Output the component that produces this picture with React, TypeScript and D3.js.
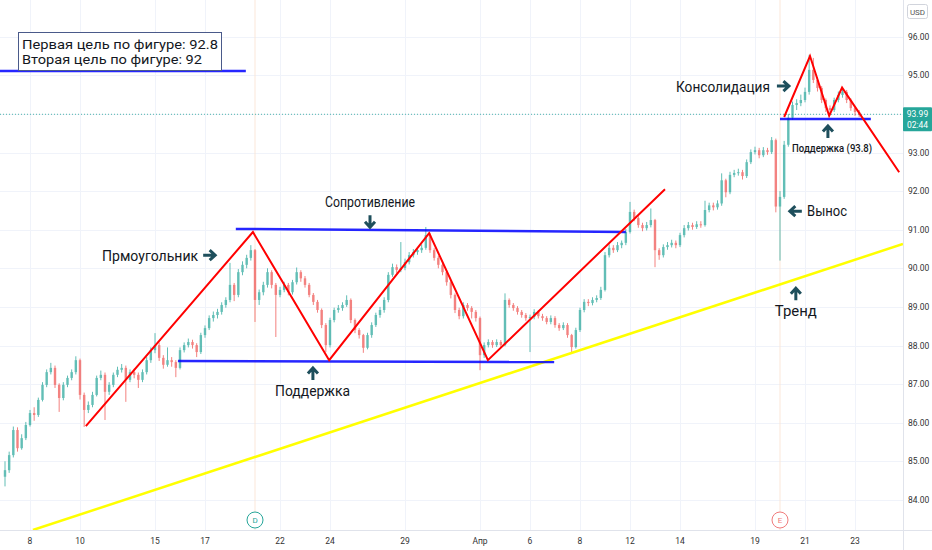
import React from 'react';
import * as d3 from 'd3';

const W = 932;
const H = 550;
const PLOT_R = 903;
const PLOT_B = 530;
const BARS_PER_DAY = 6;

const firstOpen = 84.6;
const closes = [
  84.77,85.16,85.81,85.34,85.60,85.94,86.25,86.20,86.59,86.98,
  87.31,87.42,86.98,86.64,86.98,87.16,87.31,87.62,86.72,86.33,
  86.46,86.72,87.16,87.24,86.80,86.98,87.24,87.37,87.42,87.11,
  87.31,87.24,87.11,87.31,87.62,87.88,88.01,87.68,87.50,87.62,
  87.57,87.42,87.88,88.01,88.09,88.01,87.83,88.27,88.45,88.71,
  88.79,88.87,89.05,89.18,89.57,89.31,89.90,90.09,90.27,90.47,
  89.18,89.38,89.57,89.90,89.57,89.31,89.44,89.57,89.38,89.64,
  89.90,89.74,89.57,89.31,89.13,88.92,88.53,88.01,88.66,88.92,
  88.97,89.05,89.18,88.66,88.40,88.27,87.94,88.27,88.53,88.79,
  88.92,89.18,89.83,90.03,89.96,90.01,90.16,90.34,90.42,90.47,
  90.53,90.86,90.47,90.27,90.09,89.90,89.64,89.31,88.92,88.76,
  89.05,88.97,88.87,88.71,87.75,88.01,88.09,88.01,88.09,88.01,
  89.18,89.05,88.97,88.87,88.79,88.71,88.74,88.87,88.76,88.71,
  88.61,88.71,88.53,88.45,88.53,88.27,87.96,88.40,88.92,89.13,
  89.10,89.18,89.23,89.44,90.34,90.53,90.47,90.60,90.66,90.94,
  91.46,91.30,91.12,91.04,91.12,91.25,90.47,90.34,90.55,90.60,
  90.66,90.60,90.86,91.04,91.12,91.07,91.14,91.12,91.51,91.63,
  91.58,91.68,92.28,91.97,92.42,92.47,92.49,92.39,92.75,93.01,
  93.06,92.93,93.06,93.01,93.32,91.60,91.85,93.20,93.90,94.23,
  94.28,94.36,94.57,95.14,94.88,94.67,94.36,94.15,94.10,94.36,
  94.49,94.57,94.36,94.15,94.05,93.99,
];
const highs = [
  85.00,85.25,85.90,85.88,85.70,86.02,86.33,86.40,86.65,87.05,
  87.38,87.55,87.48,87.02,87.05,87.22,87.38,87.72,87.66,86.78,
  86.55,86.80,87.22,87.35,87.30,87.05,87.30,87.45,87.52,87.48,
  87.38,87.40,87.30,87.38,87.70,87.95,88.32,88.08,87.75,87.95,
  87.70,87.62,87.95,88.08,88.18,88.15,88.06,88.33,88.52,88.78,
  88.88,88.95,89.12,89.25,90.14,89.62,89.98,90.18,90.35,90.60,
  90.50,89.45,89.65,90.00,89.95,89.62,89.52,89.65,89.62,89.70,
  90.02,89.95,89.80,89.62,89.36,89.18,88.96,88.58,88.72,88.98,
  89.05,89.12,89.30,89.22,88.70,88.45,88.30,88.33,88.60,88.85,
  89.00,89.25,89.90,90.12,90.10,90.68,90.25,90.42,90.50,90.55,
  90.62,91.07,90.92,90.52,90.32,90.14,89.95,89.68,89.35,88.98,
  89.12,89.10,89.02,88.92,88.75,88.08,88.16,88.14,88.16,88.14,
  89.35,89.22,89.10,89.02,88.92,88.84,88.80,88.94,88.92,88.82,
  88.76,88.78,88.76,88.58,88.60,88.58,88.30,88.46,88.98,89.20,
  89.20,89.25,89.30,89.52,90.42,90.62,90.60,90.68,90.72,91.02,
  91.72,91.52,91.35,91.18,91.20,91.55,91.28,90.52,90.62,90.68,
  90.74,90.72,90.92,91.12,91.20,91.18,91.22,91.22,91.75,91.70,
  91.70,91.76,92.46,92.32,92.50,92.55,92.58,92.55,92.82,93.08,
  93.15,93.12,93.14,93.12,93.40,93.36,92.00,93.30,94.00,94.32,
  94.38,94.50,94.68,95.53,95.45,94.95,94.72,94.40,94.22,94.42,
  94.58,94.70,94.62,94.40,94.20,94.10,
];
const lows = [
  84.35,84.70,85.10,85.25,85.30,85.55,85.90,86.05,86.15,86.55,
  86.92,87.25,86.90,86.28,86.58,86.92,87.10,87.25,86.60,85.89,
  86.25,86.40,86.68,87.10,86.07,86.72,86.92,87.18,87.30,86.54,
  87.05,87.15,86.90,87.05,87.25,87.55,87.80,87.60,87.40,87.45,
  87.45,87.18,87.38,87.82,87.95,87.92,87.70,87.78,88.20,88.40,
  88.62,88.70,88.80,88.98,89.12,89.15,89.25,89.82,90.00,90.20,
  88.61,89.05,89.30,89.50,89.48,88.22,89.25,89.38,89.30,89.32,
  89.58,89.65,89.50,89.25,89.05,88.85,88.45,87.83,87.95,88.60,
  88.85,88.90,89.00,88.58,88.32,88.18,87.81,87.90,88.20,88.48,
  88.72,88.85,89.12,89.78,89.88,89.90,89.95,90.10,90.28,90.35,
  90.40,90.48,90.40,90.20,90.00,89.82,89.55,89.22,88.84,88.68,
  88.70,88.90,88.70,88.62,87.36,87.68,87.95,87.94,87.96,87.95,
  87.98,88.98,88.90,88.80,88.72,88.64,87.83,88.68,88.70,88.64,
  88.55,88.55,88.46,88.38,88.40,88.20,87.83,87.92,88.35,88.86,
  89.02,89.04,89.12,89.18,89.40,90.28,90.40,90.42,90.52,90.60,
  90.90,91.22,91.05,90.96,90.98,91.06,90.03,90.22,90.28,90.48,
  90.54,90.52,90.55,90.80,90.98,91.00,91.02,91.05,91.08,91.45,
  91.50,91.52,91.62,91.84,91.92,92.36,92.40,92.30,92.34,92.70,
  92.95,92.85,92.88,92.94,92.96,91.45,90.20,91.80,93.15,93.85,
  94.10,94.20,94.30,94.50,94.80,94.58,94.28,94.05,93.97,94.05,
  94.30,94.42,94.28,94.08,93.95,93.92,
];

const dayTickLabels = ['8','10','15','17','22','24','29','Апр','6','8','12','14','19','21','23'];
const dayTickIndex = [1,3,6,8,11,13,16,19,21,23,25,27,30,32,34];
const priceTicks = [84,85,86,87,88,89,90,91,92,93,94,95,96];
const lastPrice = 93.99;
const countdown = '02:44';

// drawings (bar index, price)
const zigzagBars = [19.4, 59.5, 77.8, 101.8, 115.9, 158.4];
const zigzagPrices = [85.91, 90.94, 87.62, 90.91, 87.62, 92.05];
const resistanceBars = [55.4, 149.0];
const resistancePrices = [91.02, 90.94];
const supportBars = [41.5, 131.8];
const supportPrices = [87.60, 87.57];
const trendBars = [6.7, 215.5];
const trendPrices = [83.22, 90.63];
const targetBars = [-1.2, 57.8];
const targetPrices = [95.11, 95.11];
const consBars = [187.0, 193.2, 197.8, 200.9, 214.6];
const consPrices = [93.92, 95.50, 93.95, 94.68, 92.49];
const support2Bars = [186.0, 207.8];
const support2Prices = [93.87, 93.87];

const noteLines = ['Первая цель по фигуре: 92.8', 'Вторая цель по фигуре: 92'];

type Lbl = { text: string; bar: number; price: number; anchor: 'start' | 'middle' | 'end'; width: number; size: number };
const labels: Lbl[] = [
  { text: 'Сопротивление', bar: 87.6, price: 91.59, anchor: 'middle', width: 90, size: 15 },
  { text: 'Прмоугольник', bar: 23.3, price: 90.19, anchor: 'start', width: 96, size: 15 },
  { text: 'Поддержка', bar: 73.8, price: 86.69, anchor: 'middle', width: 75, size: 15 },
  { text: 'Консолидация', bar: 183.6, price: 94.57, anchor: 'end', width: 94, size: 15 },
  { text: 'Вынос', bar: 192.5, price: 91.35, anchor: 'start', width: 40, size: 15 },
  { text: 'Тренд', bar: 189.8, price: 88.76, anchor: 'middle', width: 42, size: 15 },
  { text: 'Поддержка (93.8)', bar: 198.5, price: 93.01, anchor: 'middle', width: 80, size: 11 },
];
type Arr = { bar: number; price: number; dir: 'up' | 'down' | 'left' | 'right' };
const arrows: Arr[] = [
  { bar: 87.6, price: 91.22, dir: 'down' },
  { bar: 49.0, price: 90.34, dir: 'right' },
  { bar: 73.9, price: 87.26, dir: 'up' },
  { bar: 186.7, price: 94.72, dir: 'right' },
  { bar: 189.8, price: 91.48, dir: 'left' },
  { bar: 189.8, price: 89.33, dir: 'up' },
  { bar: 197.5, price: 93.53, dir: 'up' },
];
const eventBars = [60, 186];
const eventLetters = ['D', 'E'];
const eventColors = ['#26a69a', '#f07b7b'];

const x = d3.scaleLinear().domain([0, BARS_PER_DAY]).range([5, 30]);
const y = d3.scaleLinear().domain([90, 96]).range([268.3, 36.7]);

const UP = '#26a69a';
const DOWN = '#ef5350';
const FONT = "Roboto, 'Liberation Sans', Arial, sans-serif";

function polyline(bars: number[], prices: number[]) {
  const pts = bars.map((b, i) => [x(b), y(prices[i])] as [number, number]);
  return d3.line()(pts) || '';
}

function arrowPath(cx: number, cy: number, dir: string) {
  const s = 6;
  const h = 5;
  if (dir === 'down') return `M${cx},${cy - s} L${cx},${cy + s - 1} M${cx - h},${cy + 0.5} L${cx},${cy + s} L${cx + h},${cy + 0.5}`;
  if (dir === 'up') return `M${cx},${cy + s} L${cx},${cy - s + 1} M${cx - h},${cy - 0.5} L${cx},${cy - s} L${cx + h},${cy - 0.5}`;
  if (dir === 'right') return `M${cx - s},${cy} L${cx + s - 1},${cy} M${cx + 0.5},${cy - h} L${cx + s},${cy} L${cx + 0.5},${cy + h}`;
  return `M${cx + s},${cy} L${cx - s + 1},${cy} M${cx - 0.5},${cy - h} L${cx - s},${cy} L${cx - 0.5},${cy + h}`;
}

export default function App() {
  const opens = closes.map((c, i) => (i === 0 ? firstOpen : closes[i - 1]));
  const bodyW = 2.4;
  return (
    <svg width={W} height={H} style={{ position: 'absolute', left: 0, top: 0, background: '#fff' }} fontFamily={FONT}>
      <defs>
        <clipPath id="plot">
          <rect x={0} y={0} width={PLOT_R} height={PLOT_B} />
        </clipPath>
      </defs>
      <rect x={0} y={0} width={W} height={H} fill="#fff" />
      {/* grid */}
      <g stroke="#f0f3fa" strokeWidth={1}>
        {priceTicks.map((p) => (
          <line key={'h' + p} x1={0} x2={PLOT_R} y1={Math.round(y(p)) + 0.5} y2={Math.round(y(p)) + 0.5} />
        ))}
        {dayTickIndex.map((d) => (
          <line key={'v' + d} x1={Math.round(x(d * BARS_PER_DAY)) + 0.5} x2={Math.round(x(d * BARS_PER_DAY)) + 0.5} y1={0} y2={PLOT_B} />
        ))}
      </g>
      {/* event vertical lines */}
      {eventBars.map((b, i) => (
        <line key={'ev' + i} x1={x(b)} x2={x(b)} y1={0} y2={PLOT_B} stroke="#fbe6d6" strokeWidth={2} opacity={0.45} />
      ))}
      <g clipPath="url(#plot)">
        {/* last price dotted line */}
        <line x1={0} x2={PLOT_R} y1={y(lastPrice)} y2={y(lastPrice)} stroke={UP} strokeWidth={1} strokeDasharray="1 2" opacity={0.8} />
        {/* candles */}
        {closes.map((c, i) => {
          const o = opens[i];
          const up = c >= o;
          const col = up ? UP : DOWN;
          const cx = x(i);
          const top = y(Math.max(o, c));
          const bot = y(Math.min(o, c));
          return (
            <g key={i} opacity={0.72}>
              <line x1={cx} x2={cx} y1={y(highs[i])} y2={y(lows[i])} stroke={col} strokeWidth={1} />
              <rect x={cx - bodyW / 2} y={top} width={bodyW} height={Math.max(1, bot - top)} fill={col} />
            </g>
          );
        })}
        {/* drawings */}
        <path d={polyline(trendBars, trendPrices)} stroke="#ffff00" strokeWidth={2.5} fill="none" />
        <path d={polyline(resistanceBars, resistancePrices)} stroke="#0000ff" strokeWidth={2.5} fill="none" opacity={0.85} />
        <path d={polyline(supportBars, supportPrices)} stroke="#0000ff" strokeWidth={2.5} fill="none" opacity={0.85} />
        <path d={polyline(targetBars, targetPrices)} stroke="#0000ff" strokeWidth={2.5} fill="none" opacity={0.85} />
        <path d={polyline(support2Bars, support2Prices)} stroke="#0000ff" strokeWidth={2.5} fill="none" opacity={0.85} />
        <path d={polyline(zigzagBars, zigzagPrices)} stroke="#ff0000" strokeWidth={2} fill="none" />
        <path d={polyline(consBars, consPrices)} stroke="#ff0000" strokeWidth={2} fill="none" />
        {/* arrows */}
        {arrows.map((a, i) => (
          <path key={'a' + i} d={arrowPath(x(a.bar), y(a.price), a.dir)} stroke="#1e4f5c" strokeWidth={3} fill="none" />
        ))}
        {/* labels */}
        {labels.map((l, i) => (
          <text
            key={'l' + i}
            x={x(l.bar)}
            y={y(l.price)}
            textAnchor={l.anchor}
            fontSize={l.size}
            fontWeight={l.size < 13 ? 500 : 400}
            fill="#131722"
            textLength={l.width}
            lengthAdjust="spacingAndGlyphs"
          >
            {l.text}
          </text>
        ))}
        {/* note box */}
        <rect x={18.5} y={32.5} width={203} height={38} fill="#fff" stroke="#4a5a8a" strokeWidth={1} />
        {noteLines.map((t, i) => (
          <text key={'n' + i} x={22} y={49 + i * 15} fontSize={13} fill="#131722" textLength={i === 0 ? 196 : 180} lengthAdjust="spacingAndGlyphs">
            {t}
          </text>
        ))}
      </g>
      {/* event markers */}
      {eventBars.map((b, i) => (
        <g key={'em' + i}>
          <circle cx={x(b)} cy={520} r={8} fill="#fff" stroke={eventColors[i]} strokeWidth={1} />
          <text x={x(b)} y={523} textAnchor="middle" fontSize={8} fill={eventColors[i]}>{eventLetters[i]}</text>
        </g>
      ))}
      {/* axes borders */}
      <line x1={PLOT_R + 0.5} x2={PLOT_R + 0.5} y1={0} y2={H} stroke="#e0e3eb" />
      <line x1={0} x2={W} y1={PLOT_B + 0.5} y2={PLOT_B + 0.5} stroke="#e0e3eb" />
      {/* price axis */}
      {priceTicks.map((p) => (
        <text key={'pt' + p} x={908} y={y(p) + 3} fontSize={8.5} fill="#333">
          {p.toFixed(2)}
        </text>
      ))}
      {/* usd */}
      <rect x={907.5} y={4.5} width={20} height={14} rx={2} fill="#fff" stroke="#d1d4dc" />
      <text x={917.5} y={14.5} textAnchor="middle" fontSize={8} fill="#555">USD</text>
      {/* last price label */}
      <rect x={903} y={y(lastPrice) - 7} width={29} height={24} fill={UP} rx={1} />
      <text x={917.5} y={y(lastPrice) + 3} textAnchor="middle" fontSize={8.5} fill="#fff">{lastPrice.toFixed(2)}</text>
      <text x={917.5} y={y(lastPrice) + 14} textAnchor="middle" fontSize={8.5} fill="#fff">{countdown}</text>
      {/* time axis */}
      {dayTickIndex.map((d, i) => (
        <text key={'tt' + i} x={x(d * BARS_PER_DAY)} y={544} textAnchor="middle" fontSize={8.5} fill="#333">
          {dayTickLabels[i]}
        </text>
      ))}
    </svg>
  );
}
